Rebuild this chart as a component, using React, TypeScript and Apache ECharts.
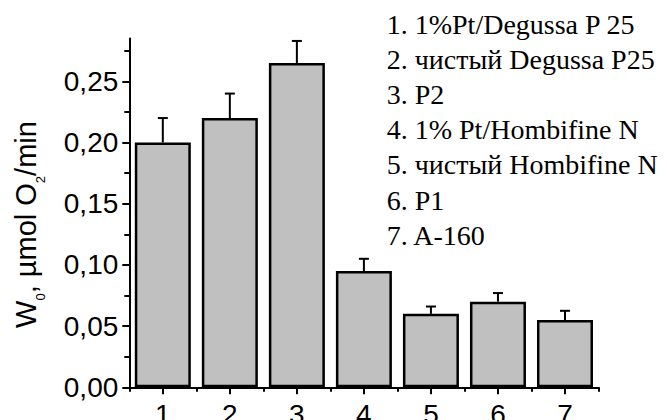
import React, { useEffect, useRef } from 'react';
import * as echarts from 'echarts';

// Sample numbers shown along the category axis
const categories = ['1', '2', '3', '4', '5', '6', '7'];
// Photocatalytic O2 evolution rate, µmol O2/min
const rates = [0.2, 0.22, 0.265, 0.095, 0.06, 0.07, 0.055];
// Upper error of each rate
const rateErrors = [0.02, 0.02, 0.018, 0.01, 0.006, 0.007, 0.0075];
// Value-axis ticks
const yTicks = [0, 0.05, 0.1, 0.15, 0.2, 0.25];
const yMinorTicks = [0.025, 0.075, 0.125, 0.175, 0.225, 0.275];
const yMax = 0.285;
// Key to the sample numbers
const sampleNames = [
  '1. 1%Pt/Degussa P 25',
  '2. чистый Degussa P25',
  '3. P2',
  '4. 1% Pt/Hombifine N',
  '5. чистый Hombifine N',
  '6. P1',
  '7. A-160',
];

const SANS = 'Liberation Sans';
const SERIF = 'Liberation Serif';

export default function App() {
  const ref = useRef<HTMLDivElement>(null);

  useEffect(() => {
    if (!ref.current) return;
    const chart = echarts.init(ref.current, undefined, { renderer: 'svg' });

    const axisLine = { show: true, lineStyle: { color: '#000', width: 2 } };

    const option: any = {
      animation: false,
      backgroundColor: '#fff',
      grid: { left: 129.3, right: 68.5, top: 38.5, bottom: 32.7, containLabel: false, outerBoundsMode: 'none' },
      xAxis: [
        {
          type: 'category',
          data: categories,
          position: 'bottom',
          axisLine,
          axisTick: { show: true, alignWithLabel: true, length: 7, lineStyle: { color: '#000', width: 2 } },
          axisLabel: { color: '#000', fontSize: 28, fontFamily: SANS, margin: 13 },
          splitLine: { show: false },
        },
        {
          type: 'category',
          data: categories,
          position: 'bottom',
          axisLine: { show: false },
          axisTick: { show: true, alignWithLabel: false, length: 4.5, lineStyle: { color: '#000', width: 2 } },
          axisLabel: { show: false },
          splitLine: { show: false },
        },
      ],
      yAxis: [
        {
          type: 'value',
          min: 0,
          max: yMax,
          position: 'left',
          axisLine,
          axisTick: { show: true, length: 7, customValues: yTicks, lineStyle: { color: '#000', width: 2 } },
          axisLabel: {
            color: '#000',
            fontSize: 28,
            fontFamily: SANS,
            margin: 11,
            customValues: yTicks,
            formatter: (v: number) => v.toFixed(2).replace('.', ','),
          },
          splitLine: { show: false },
        },
        {
          type: 'value',
          min: 0,
          max: yMax,
          position: 'left',
          axisLine: { show: false },
          axisTick: { show: true, length: 5, customValues: yMinorTicks, lineStyle: { color: '#000', width: 2 } },
          axisLabel: { show: false, customValues: yMinorTicks },
          splitLine: { show: false },
        },
      ],
      series: [
        {
          type: 'bar',
          xAxisIndex: 0,
          yAxisIndex: 0,
          data: rates,
          barWidth: 56,
          itemStyle: { color: '#c0c0c0', borderColor: '#000', borderWidth: 2.5 },
          z: 2,
        },
        {
          type: 'custom',
          xAxisIndex: 0,
          yAxisIndex: 0,
          data: categories.map((_, i) => [i, rates[i], rateErrors[i]]),
          encode: { x: 0, y: 1 },
          z: 3,
          renderItem: (_params: any, api: any) => {
            const i = api.value(0);
            const v = api.value(1);
            const e = api.value(2);
            const base = api.coord([i, v]);
            const top = api.coord([i, v + e]);
            const stroke = { stroke: '#000', lineWidth: 2 };
            return {
              type: 'group',
              children: [
                { type: 'line', shape: { x1: base[0], y1: base[1], x2: top[0], y2: top[1] }, style: stroke },
                { type: 'line', shape: { x1: top[0] - 5, y1: top[1], x2: top[0] + 5, y2: top[1] }, style: stroke },
              ],
            };
          },
        },
      ],
      graphic: [
        {
          type: 'text',
          x: 11,
          y: 224.5,
          rotation: Math.PI / 2,
          style: {
            text: '{m|W}{s|0}{m|, µmol O}{s|2}{m|/min}',
            align: 'center',
            verticalAlign: 'top',
            fill: '#000',
            rich: {
              m: { fontSize: 29, lineHeight: 29, fontFamily: SANS, fill: '#000', verticalAlign: 'top' },
              s: { fontSize: 13, lineHeight: 13, fontFamily: SANS, fill: '#000', verticalAlign: 'top', padding: [23, 0, 0, 0] },
            },
          },
        },
        ...sampleNames.map((name, i) => ({
          type: 'text',
          x: 386.7,
          y: 24 + i * 35.2,
          style: {
            text: name,
            font: '28px ' + SERIF,
            fontSize: 28,
            fontFamily: SERIF,
            fill: '#000',
            align: 'left',
            verticalAlign: 'middle',
          },
        })),
      ],
    };

    chart.setOption(option);
    return () => chart.dispose();
  }, []);

  return (
    <div
      ref={ref}
      style={{ position: 'fixed', left: 0, top: 0, width: 667, height: 420, background: '#fff' }}
    />
  );
}
